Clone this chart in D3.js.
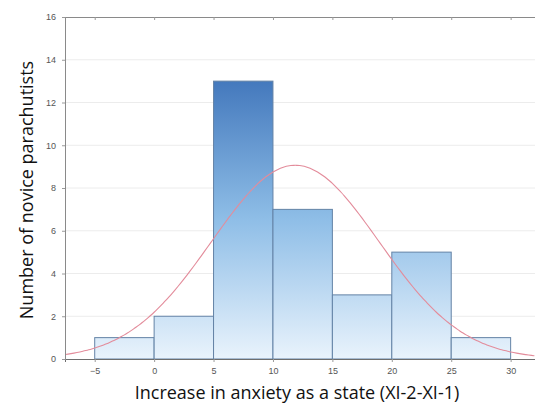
<!DOCTYPE html>
<html>
<head>
<meta charset="utf-8">
<script src="https://cdn.jsdelivr.net/npm/d3@7"></script>
<style>
  body { margin: 0; background: #fff; }
  svg { display: block; }
</style>
</head>
<body>
<script>
// histogram data
const binStarts = [-5, 0, 5, 10, 15, 20, 25];
const binWidth = 5;
const counts = [1, 2, 13, 7, 3, 5, 1];
const xTicks = [-5, 0, 5, 10, 15, 20, 25, 30];
const yTicks = [0, 2, 4, 6, 8, 10, 12, 14, 16];

const canvWidth = 535, canvHeight = 405;
const svg = d3.select("body").append("svg")
    .attr("width", canvWidth)
    .attr("height", canvHeight);

// plot area (right side is cut off in the original)
const margin = {top: 17, right: 0, bottom: 46, left: 65};
const width = canvWidth - margin.left - margin.right;
const height = canvHeight - margin.top - margin.bottom;

const g = svg.append("g")
    .attr("transform", "translate(" + margin.left + "," + margin.top + ")");

const xScale = d3.scaleLinear().domain([-7.5, 32.05]).range([0, width]);
const yScale = d3.scaleLinear().domain([0, 16]).range([height, 0]);

// gradient for the bars, tied to the y scale
const defs = svg.append("defs");
const grad = defs.append("linearGradient")
    .attr("id", "barGrad")
    .attr("gradientUnits", "userSpaceOnUse")
    .attr("x1", 0).attr("x2", 0)
    .attr("y1", yScale(0)).attr("y2", yScale(13));
grad.append("stop").attr("offset", "0%").attr("stop-color", "#e9f3fc");
grad.append("stop").attr("offset", "50%").attr("stop-color", "#8fbee7");
grad.append("stop").attr("offset", "100%").attr("stop-color", "#4479bd");

// horizontal grid lines
g.append("g")
    .selectAll("line")
    .data(yTicks.filter(d => d > 0 && d < 16))
    .enter().append("line")
    .attr("x1", 0).attr("x2", width)
    .attr("y1", d => yScale(d)).attr("y2", d => yScale(d))
    .attr("stroke", "#ececec")
    .attr("stroke-width", 1);

// bars
const bins = binStarts.map((s, i) => ({x0: s, x1: s + binWidth, n: counts[i]}));
g.append("g")
    .selectAll("rect")
    .data(bins)
    .enter().append("rect")
    .attr("x", d => xScale(d.x0))
    .attr("y", d => yScale(d.n))
    .attr("width", d => xScale(d.x1) - xScale(d.x0))
    .attr("height", d => yScale(0) - yScale(d.n))
    .attr("fill", "url(#barGrad)")
    .attr("stroke", "#6483a6")
    .attr("stroke-width", 1);

// fitted normal curve (mean / sd from the binned data)
const total = d3.sum(counts);
const mids = binStarts.map(s => s + binWidth / 2);
const mean = d3.sum(mids, (m, i) => m * counts[i]) / total;
const sd = Math.sqrt(d3.sum(mids, (m, i) => counts[i] * (m - mean) ** 2) / (total - 1));
const normal = x => total * binWidth / (sd * Math.sqrt(2 * Math.PI)) *
    Math.exp(-0.5 * ((x - mean) / sd) ** 2);
const curveX = d3.range(-7.5, 32.1, 0.25);
g.append("path")
    .datum(curveX)
    .attr("fill", "none")
    .attr("stroke", "#e38c9b")
    .attr("stroke-width", 1.1)
    .attr("d", d3.line().x(d => xScale(d)).y(d => yScale(normal(d))).curve(d3.curveBasis));

// axes
const xAxis = d3.axisBottom(xScale).tickValues(xTicks).tickSize(3).tickPadding(6).tickFormat(d3.format("d"));
const xg = g.append("g").attr("transform", "translate(0," + height + ")").call(xAxis);
const topAxis = d3.axisBottom(xScale).tickValues(xTicks).tickSize(3).tickFormat("");
const tg = g.append("g").call(topAxis);
const yAxis = d3.axisLeft(yScale).tickValues(yTicks).tickSize(3).tickPadding(6);
const yg = g.append("g").call(yAxis);

[xg, tg, yg].forEach(a => {
    a.select(".domain").attr("stroke", "#8a8a8a");
    a.selectAll(".tick line").attr("stroke", "#9a9a9a");
    a.selectAll(".tick text")
        .attr("fill", "#555")
        .attr("font-family", "Liberation Sans, Arial, sans-serif")
        .attr("font-size", "9px");
});
xg.select(".domain").attr("stroke", "#6e6e6e");

// text label for the x axis
svg.append("text")
    .attr("x", 297)
    .attr("y", 399)
    .attr("font-family", "Open Sans, sans-serif")
    .attr("font-size", "18px")
    .attr("fill", "#111")
    .style("text-anchor", "middle")
    .text("Increase in anxiety as a state (XI-2-XI-1)");

// text label for the y axis
svg.append("text")
    .attr("transform", "translate(33,190) rotate(-90)")
    .attr("font-family", "Open Sans, sans-serif")
    .attr("font-size", "18px")
    .attr("fill", "#111")
    .style("text-anchor", "middle")
    .text("Number of novice parachutists");
</script>
</body>
</html>
